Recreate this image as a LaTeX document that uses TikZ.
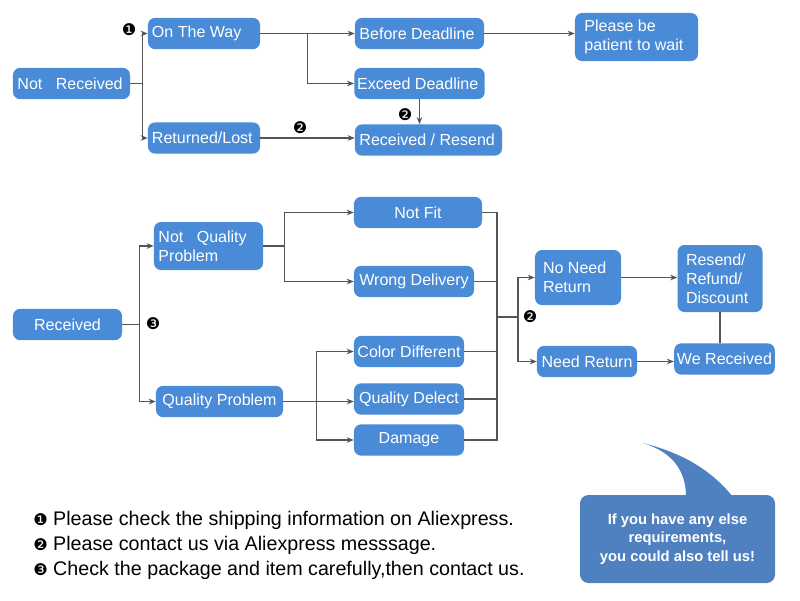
\documentclass[tikz,border=0pt]{standalone}
\usepackage{fontspec}
\setmainfont{Liberation Sans}
\newfontfamily\dingfont{DejaVu Sans}
\usetikzlibrary{arrows.meta,calc}
\definecolor{boxblue}{HTML}{4A8BD8}
\definecolor{bubbleblue}{HTML}{4F80BF}
\definecolor{linegray}{HTML}{555555}

\begin{document}
\begin{tikzpicture}[x=0.025cm, y=-0.025cm, >={Stealth[length=5pt,width=4pt]},
  box/.style={fill=boxblue, text=white, rounded corners=5pt, inner xsep=2pt, inner ysep=2pt,
    minimum height=0.78cm, font=\fontsize{11.4}{13.5}\selectfont},
  lbox/.style={box, align=flush left},
  link/.style={draw=linegray, line width=0.9pt},
  numtag/.style={font=\dingfont\fontsize{11.5}{11.5}\selectfont, inner sep=0pt},
  legend/.style={font=\fontsize{14}{17}\selectfont, anchor=west, inner sep=0pt}]

\useasboundingbox (0,0) rectangle (800,600);

\node[lbox, minimum width=2.925cm, text width=2.7cm] (notrec) at (71.5,83.5) {Not~~~Received};
\node[lbox, minimum width=2.8cm, text width=2.6cm] (ontheway) at (204,33.5) {On The Way};
\node[lbox, minimum width=2.8cm, text width=2.6cm] (retlost) at (204,138) {Returned/Lost};
\node[lbox, minimum width=3.225cm, text width=3.0cm] (before) at (419.5,33.5) {Before Deadline};
\node[lbox, minimum width=3.225cm, text width=3.12cm] (exceed) at (419.5,83.5) {Exceed Deadline};
\node[lbox, minimum width=3.675cm, text width=3.45cm] (resend) at (428.5,140) {Received / Resend};
\node[lbox, minimum width=3.075cm, minimum height=1.2cm, text width=2.6cm] (patient) at (636.5,37) {Please be\\patient to wait};

\node[box, minimum width=2.725cm] (received) at (67.5,324.5) {Received};
\node[lbox, minimum width=2.725cm, minimum height=1.2cm, text width=2.5cm] (notqual) at (208.5,246) {Not~~~Quality\\Problem};
\node[box, minimum width=3.175cm] (qual) at (219.5,401.5) {Quality Problem};
\node[box, minimum width=3.2cm] (notfit) at (418,212.5) {Not Fit};
\node[box, minimum width=3.0cm] (wrong) at (414,281.5) {Wrong Delivery};
\node[box, minimum width=2.75cm] (color) at (409,351.5) {Color Different};
\node[box, minimum width=2.75cm] (delect) at (409,399) {Quality Delect};
\node[box, minimum width=2.75cm] (damage) at (409,440) {Damage};
\node[lbox, minimum width=2.15cm, minimum height=1.375cm, text width=1.75cm] (noneed) at (578,277.5) {No Need\\Return};
\node[box, minimum width=2.5cm] (needret) at (587,361.5) {Need Return};
\node[lbox, minimum width=2.125cm, minimum height=1.675cm, text width=1.7cm] (refund) at (720,278.5) {Resend/\\Refund/\\Discount};
\node[box, minimum width=2.475cm] (werec) at (724.5,359) {We Received};

\coordinate (splitA) at ($(notrec.east)+(12,0)$);
\draw[link] (notrec.east) -- (splitA);
\draw[link,->] (splitA) |- (ontheway.west);
\draw[link,->] (splitA) |- (retlost.west);
\draw[link,->] (ontheway.east) -- (before.west);
\coordinate (splitB) at ($(ontheway.east)!0.5!(before.west)$);
\draw[link,->] (splitB) |- (exceed.west);
\draw[link,->] (exceed.south) -- (exceed.south |- resend.north);
\draw[link,->] (retlost.east) -- (retlost.east -| resend.west);
\draw[link,->] (before.east) -- (before.east -| patient.west);

\coordinate (splitC) at ($(received.east)+(17,0)$);
\draw[link] (received.east) -- (splitC);
\draw[link,->] (splitC) |- (notqual.west);
\draw[link,->] (splitC) |- (qual.west);
\coordinate (splitD) at ($(notqual.east)+(21,0)$);
\draw[link] (notqual.east) -- (splitD);
\draw[link,->] (splitD) |- (notfit.west);
\draw[link,->] (splitD) |- (wrong.west);
\coordinate (splitE) at ($(qual.east)+(33,0)$);
\draw[link,->] (qual.east) -- (qual.east -| delect.west);
\draw[link,->] (splitE) |- (color.west);
\draw[link,->] (splitE) |- (damage.west);

\coordinate (busR) at (497,317);
\foreach \n in {notfit,wrong,color,delect,damage}
  \draw[link] (\n.east) -| (busR);
\coordinate (splitF) at (518,317);
\draw[link] (busR) -- (splitF);
\draw[link,->] (splitF) |- (noneed.west);
\draw[link,->] (splitF) |- (needret.west);
\draw[link,->] (noneed.east) -- (noneed.east -| refund.west);
\draw[link,->] (needret.east) -- (needret.east -| werec.west);
\draw[link] (refund.south) -- (refund.south |- werec.north);

\node[numtag] (tag1) at (129,30) {❶};
\node[numtag] (tag2a) at (300,128) {❷};
\node[numtag] (tag2b) at (405,115) {❷};
\node[numtag] (tag3) at (153,324) {❸};
\node[numtag] (tag2c) at (530,317) {❷};

\node[legend] (note1) at (33,520) {{\dingfont\fontsize{11.5}{11.5}\selectfont ❶} Please check the shipping information on Aliexpress.};
\node[legend] (note2) at (33,545) {{\dingfont\fontsize{11.5}{11.5}\selectfont ❷} Please contact us via Aliexpress messsage.};
\node[legend] (note3) at (33,570) {{\dingfont\fontsize{11.5}{11.5}\selectfont ❸} Check the package and item carefully,then contact us.};

\fill[bubbleblue, rounded corners=6pt] (580,495) rectangle (775,583);
\fill[bubbleblue] (686,497) .. controls (686,470) and (672,452) .. (643,443)
  .. controls (690,455) and (715,475) .. (733,497) -- cycle;
\node[text=white, align=center, font=\bfseries\fontsize{10.5}{13}\selectfont] (bubbletext) at (677.5,539)
  {If you have any else\\requirements,\\you could also tell us!};

\end{tikzpicture}
\end{document}
